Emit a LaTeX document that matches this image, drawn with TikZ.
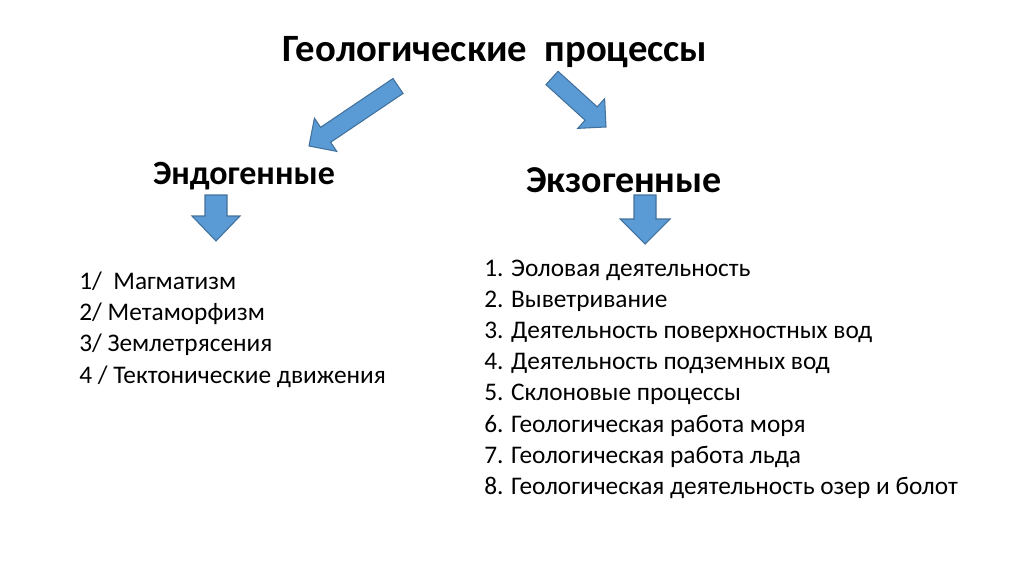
\documentclass[tikz,border=0pt]{standalone}
\usepackage{fontspec}
\setmainfont{Carlito}
\tikzset{barrow/.style={fill=arrowfill,draw=arrowedge,line width=0.8pt,line join=miter},
 lst/.style={anchor=north west,align=left,inner sep=0pt,font=\fontsize{19}{23.3}\selectfont}}
\definecolor{arrowfill}{HTML}{5B9BD5}
\definecolor{arrowedge}{HTML}{41719C}
\newcommand\barrow[4]{%
 \pgfmathsetmacro\ang{atan2(-(#4-#2),#3-#1)}%
 \pgfmathsetmacro\len{veclen(#3-#1,#4-#2)}%
 \draw[barrow,shift={(#1,#2)},rotate=\ang] (0,-9)--(\len-20,-9)--(\len-20,-20)--(\len,0)--(\len-20,20)--(\len-20,9)--(0,9)--cycle;}
\begin{document}
\begin{tikzpicture}[x=0.75pt,y=-0.75pt]
\useasboundingbox (0,0) rectangle (1024,574);
\node[font=\bfseries\fontsize{29}{33}\selectfont] (t) at (495,52) {Геологические\ \ процессы};
\node[font=\bfseries\fontsize{25.5}{29}\selectfont] (en) at (244,176) {Эндогенные};
\node[font=\bfseries\fontsize{28.5}{32}\selectfont] (ex) at (624,180) {Экзогенные};
\barrow{398}{86}{309}{146}
\barrow{552}{78}{606}{127}
\draw[barrow] (205,195)--(227,195)--(227,216)--(240,216)--(216,241)--(192,216)--(205,216)--cycle;
\draw[barrow] (634,195)--(656,195)--(656,219)--(670,219)--(645,244)--(620,219)--(634,219)--cycle;
\node[lst] (l1) at (79,272) {1/\ \ Магматизм\\2/ Метаморфизм\\3/ Землетрясения\\4 / Тектонические движения};
\node[lst] (l2) at (484,260) {1. Эоловая деятельность\\2. Выветривание\\3. Деятельность поверхностных вод\\4. Деятельность подземных вод\\5. Склоновые процессы\\6. Геологическая работа моря\\7. Геологическая работа льда\\8. Геологическая деятельность озер и болот};
\end{tikzpicture}
\end{document}
